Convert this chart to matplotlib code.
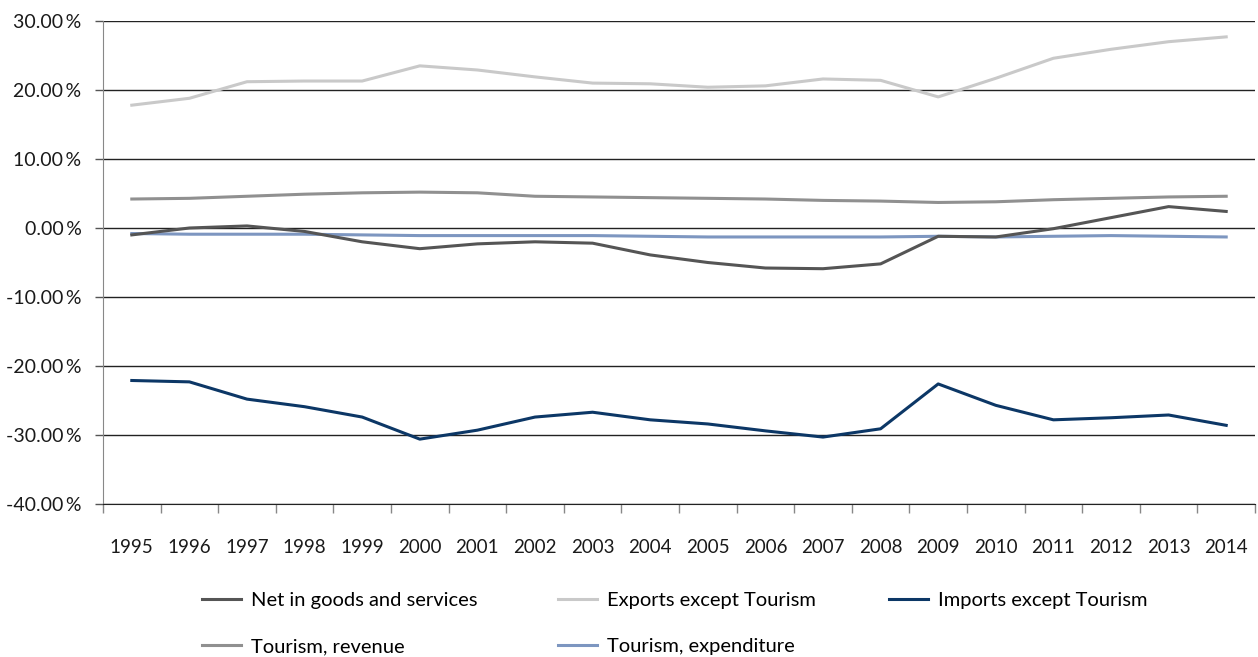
import matplotlib
matplotlib.use("Agg")
import matplotlib.pyplot as plt
from matplotlib.ticker import FixedLocator, FuncFormatter

plt.rcParams['font.family'] = ['Lato', 'DejaVu Sans']

# Shares of GDP, in percent
years = [str(y) for y in range(1995, 2015)]
net_goods_services = [-1.0, 0.0, 0.3, -0.5, -2.0, -3.0, -2.3, -2.0, -2.2, -3.9,
                      -5.0, -5.8, -5.9, -5.2, -1.2, -1.3, -0.1, 1.5, 3.1, 2.4]
exports_ex_tourism = [17.8, 18.8, 21.2, 21.3, 21.3, 23.5, 22.9, 21.9, 21.0, 20.9,
                      20.4, 20.6, 21.6, 21.4, 19.0, 21.7, 24.6, 25.9, 27.0, 27.7]
imports_ex_tourism = [-22.1, -22.3, -24.8, -25.9, -27.4, -30.6, -29.3, -27.4, -26.7, -27.8,
                      -28.4, -29.4, -30.3, -29.1, -22.6, -25.7, -27.8, -27.5, -27.1, -28.6]
tourism_revenue = [4.2, 4.3, 4.6, 4.9, 5.1, 5.2, 5.1, 4.6, 4.5, 4.4,
                   4.3, 4.2, 4.0, 3.9, 3.7, 3.8, 4.1, 4.3, 4.5, 4.6]
tourism_expenditure = [-0.8, -0.9, -0.9, -0.9, -1.0, -1.1, -1.1, -1.1, -1.1, -1.2,
                       -1.3, -1.3, -1.3, -1.3, -1.2, -1.3, -1.2, -1.1, -1.2, -1.3]

fig = plt.figure(figsize=(12.58, 6.57), dpi=100)
ax = fig.add_axes([103 / 1258, 1 - 504 / 657, 1152 / 1258, 483 / 657])

x = range(len(years))
lw = 2.2
l_net, = ax.plot(x, net_goods_services, color='#555555', lw=lw, label='Net in goods and services', zorder=4)
l_exp, = ax.plot(x, exports_ex_tourism, color='#c9c9c9', lw=lw, label='Exports except Tourism', zorder=3)
l_imp, = ax.plot(x, imports_ex_tourism, color='#0c3766', lw=lw, label='Imports except Tourism', zorder=3)
l_rev, = ax.plot(x, tourism_revenue, color='#909090', lw=lw, label='Tourism, revenue', zorder=3)
l_tex, = ax.plot(x, tourism_expenditure, color='#7d96c0', lw=lw, label='Tourism, expenditure', zorder=3)

ax.set_xlim(-0.5, len(years) - 0.5)
ax.set_ylim(-40, 30)
ax.set_yticks(range(-40, 31, 10))
ax.yaxis.set_major_formatter(FuncFormatter(lambda v, p: '%.2f\u2009%%' % v))
ax.grid(axis='y', color='#222222', lw=1.0)
ax.set_axisbelow(True)

# year labels sit at category centres, tick marks at the boundaries
ax.xaxis.set_major_locator(FixedLocator([i - 0.5 for i in range(len(years) + 1)]))
ax.xaxis.set_minor_locator(FixedLocator(list(x)))
ax.xaxis.set_major_formatter(FuncFormatter(lambda v, p: ''))
ax.set_xticks(list(x), years, minor=True)
ax.tick_params(axis='x', which='major', length=6.5, color='#888888', width=1)
ax.tick_params(axis='x', which='minor', length=0, pad=25, labelsize=13.5, colors='#1a1a1a')
ax.tick_params(axis='y', length=5.5, pad=10, labelsize=14, color='#555555', width=1, colors='#1a1a1a')
ax.tick_params(axis='y', colors='#555555', labelcolor='#1a1a1a')

for side in ['top', 'right']:
    ax.spines[side].set_visible(False)
ax.spines['left'].set_color('#888888')
ax.spines['bottom'].set_color('#222222')

# legend as three columns of fixed position
legend_kw = dict(frameon=False, fontsize=14.5, handlelength=1.95, handletextpad=0.5,
                 borderpad=0, borderaxespad=0, labelspacing=1.45, loc='upper left',
                 bbox_transform=fig.transFigure)
fig.legend(handles=[l_net, l_rev], bbox_to_anchor=(202 / 1258, 1 - 592 / 657), **legend_kw)
fig.legend(handles=[l_exp, l_tex], bbox_to_anchor=(558 / 1258, 1 - 592 / 657), **legend_kw)
fig.legend(handles=[l_imp], bbox_to_anchor=(889 / 1258, 1 - 592 / 657), **legend_kw)

fig.savefig('out.png', dpi=100)
